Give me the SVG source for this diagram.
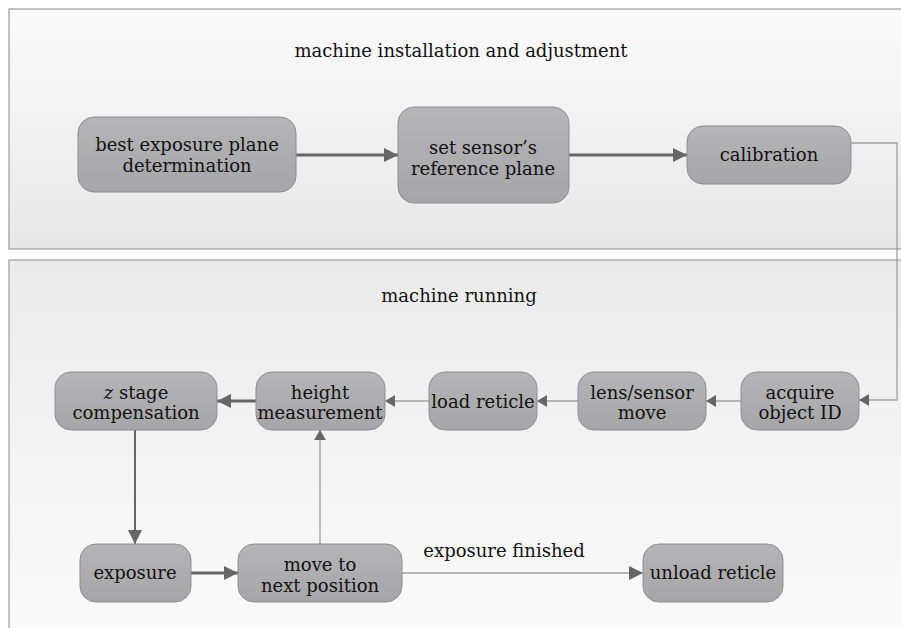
<svg xmlns="http://www.w3.org/2000/svg" width="901" height="628" viewBox="0 0 901 628">
<defs>
<linearGradient id="gTop" x1="0" y1="0" x2="0" y2="1"><stop offset="0" stop-color="#fbfbfb"/><stop offset="1" stop-color="#e8e8e8"/></linearGradient>
<linearGradient id="gBot" x1="0" y1="0" x2="0" y2="1"><stop offset="0" stop-color="#ebebeb"/><stop offset="1" stop-color="#fbfbfb"/></linearGradient>
<linearGradient id="gBox" x1="0" y1="0" x2="0" y2="1"><stop offset="0" stop-color="#b5b5b7"/><stop offset="1" stop-color="#a6a6a9"/></linearGradient>
<marker id="ah" markerUnits="userSpaceOnUse" markerWidth="14" markerHeight="14" viewBox="0 0 12 12" refX="12" refY="6" orient="auto"><path d="M0,0 L12,6 L0,12 Z" fill="#666"/></marker>
<marker id="ahs" markerUnits="userSpaceOnUse" markerWidth="11" markerHeight="12" viewBox="0 0 10 12" refX="10" refY="6" orient="auto"><path d="M0,0 L10,6 L0,12 Z" fill="#666"/></marker>
</defs>
<style>
.panel{stroke:#9c9c9c;stroke-width:1.2}
.box{fill:url(#gBox);stroke:#8e8e90;stroke-width:1}
text{font-family:"DejaVu Serif","Liberation Serif",serif;font-size:18px;fill:#111;text-anchor:middle}
.thick{stroke:#666;stroke-width:3;fill:none}
.mid{stroke:#666;stroke-width:2;fill:none}
.thin{stroke:#a0a0a0;stroke-width:1.3;fill:none}
</style>
<rect width="901" height="628" fill="#fff"/>
<g id="panel-install">
<rect class="panel" x="9" y="9" width="900" height="240" fill="url(#gTop)"/>
<text x="461" y="57">machine installation and adjustment</text>
</g>
<g id="panel-running">
<rect class="panel" x="9" y="260" width="900" height="380" fill="url(#gBot)"/>
<text x="459" y="302">machine running</text>
</g>
<g id="connectors">
<line class="thick" x1="296" y1="155" x2="398" y2="155" marker-end="url(#ah)"/>
<line class="thick" x1="569" y1="155" x2="687" y2="155" marker-end="url(#ah)"/>
<polyline class="thin" points="851,143 897,143 897,400 859,400" marker-end="url(#ahs)"/>
<line class="thin" x1="741" y1="401" x2="706" y2="401" marker-end="url(#ahs)"/>
<line class="thin" x1="578" y1="401" x2="537" y2="401" marker-end="url(#ahs)"/>
<line class="thin" x1="429" y1="401" x2="385" y2="401" marker-end="url(#ahs)"/>
<line class="thick" x1="256" y1="401" x2="217" y2="401" marker-end="url(#ah)"/>
<line class="mid" x1="135" y1="430" x2="135" y2="544" marker-end="url(#ah)"/>
<line class="thick" x1="191" y1="573" x2="238" y2="573" marker-end="url(#ah)"/>
<line class="thin" x1="320" y1="544" x2="320" y2="430" marker-end="url(#ahs)"/>
<line class="thin" x1="402" y1="573" x2="643" y2="573" marker-end="url(#ah)"/>
<text x="504" y="557">exposure finished</text>
</g>
<g id="best-exposure">
<rect class="box" x="78" y="117" width="218" height="75" rx="16"/>
<text x="187" y="151">best exposure plane</text>
<text x="187" y="172">determination</text>
</g>
<g id="set-sensor">
<rect class="box" x="398" y="107" width="171" height="96" rx="16"/>
<text x="483" y="154">set sensor’s</text>
<text x="483" y="175">reference plane</text>
</g>
<g id="calibration">
<rect class="box" x="687" y="126" width="164" height="58" rx="16"/>
<text x="769" y="161">calibration</text>
</g>
<g id="acquire">
<rect class="box" x="741" y="372" width="118" height="58" rx="16"/>
<text x="800" y="399">acquire</text>
<text x="800" y="419">object ID</text>
</g>
<g id="lens-move">
<rect class="box" x="578" y="372" width="128" height="58" rx="16"/>
<text x="642" y="399">lens/sensor</text>
<text x="642" y="419">move</text>
</g>
<g id="load-reticle">
<rect class="box" x="429" y="372" width="108" height="58" rx="16"/>
<text x="483" y="408">load reticle</text>
</g>
<g id="height">
<rect class="box" x="256" y="372" width="129" height="58" rx="16"/>
<text x="320" y="399">height</text>
<text x="320" y="419">measurement</text>
</g>
<g id="zstage">
<rect class="box" x="55" y="372" width="162" height="58" rx="16"/>
<text x="136" y="399"><tspan font-style="italic">z</tspan> stage</text>
<text x="136" y="419">compensation</text>
</g>
<g id="exposure">
<rect class="box" x="80" y="544" width="111" height="58" rx="16"/>
<text x="135" y="579">exposure</text>
</g>
<g id="move-next">
<rect class="box" x="238" y="544" width="164" height="58" rx="16"/>
<text x="320" y="571">move to</text>
<text x="320" y="592">next position</text>
</g>
<g id="unload">
<rect class="box" x="643" y="544" width="140" height="58" rx="16"/>
<text x="713" y="579">unload reticle</text>
</g>
</svg>
